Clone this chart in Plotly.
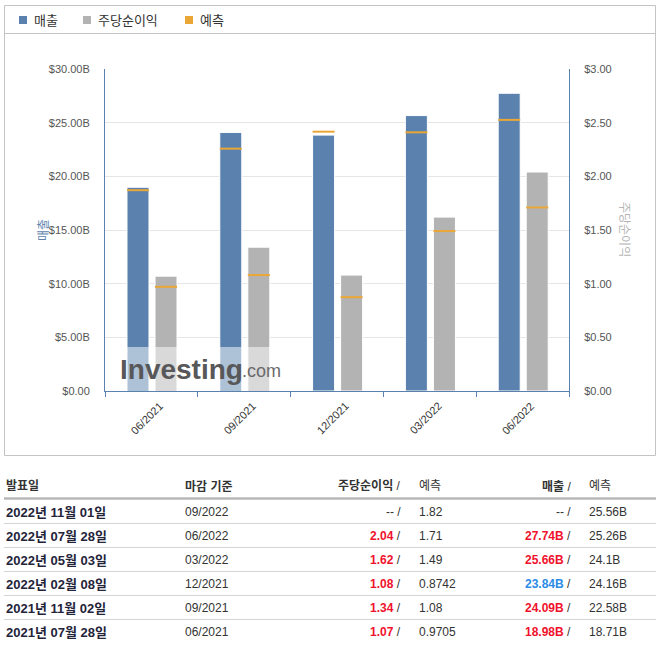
import plotly.graph_objects as go

# 실적 데이터 (오래된 순)
periods = ["06/2021", "09/2021", "12/2021", "03/2022", "06/2022", "09/2022"]
release_dates = ["2021년 07월 28일", "2021년 11월 02일", "2022년 02월 08일",
                 "2022년 05월 03일", "2022년 07월 28일", "2022년 11월 01일"]
revenue = [18.98, 24.09, 23.84, 25.66, 27.74, None]       # 매출 ($B)
revenue_fc = [18.71, 22.58, 24.16, 24.1, 25.26, 25.56]    # 매출 예측
eps = [1.07, 1.34, 1.08, 1.62, 2.04, None]                # 주당순이익
eps_fc = [0.9705, 1.08, 0.8742, 1.49, 1.71, 1.82]         # 주당순이익 예측

rev_ticks = [0, 5, 10, 15, 20, 25, 30]
rev_ticktext = ["$0.00", "$5.00B", "$10.00B", "$15.00B", "$20.00B", "$25.00B", "$30.00B"]
eps_ticks = [0, 0.5, 1.0, 1.5, 2.0, 2.5, 3.0]
eps_ticktext = ["$0.00", "$0.50", "$1.00", "$1.50", "$2.00", "$2.50", "$3.00"]

legend_labels = ["매출", "주당순이익", "예측"]

BLUE = "#5b82ae"
GRAY = "#b3b3b3"
ORANGE = "#eba735"
RED = "#f0122c"
UPBLUE = "#2b8be6"
FONT = "Arial, 'Liberation Sans', 'Noto Sans CJK KR', sans-serif"

# 플롯 영역 (픽셀)
W, H = 665, 649
L, R, T, B = 105, 569, 69, 391


def px(x):
    return (x - L) / (R - L)


def py(y):
    return (B - y) / (B - T)


# 차트에 그릴 분기 (실적이 있는 것만)
n = sum(v is not None for v in revenue)
idx = list(range(n))
bw = 0.237
off_rev = -0.263
off_eps = 0.039
fc_size = 22 / 1.4  # line-ew 심볼은 size의 1.4배 길이

fig = go.Figure()
fig.add_bar(x=idx, y=revenue[:n], width=bw, offset=off_rev, yaxis="y",
            marker=dict(color=BLUE, line=dict(color="white", width=1)),
            showlegend=False, hoverinfo="skip")
fig.add_bar(x=idx, y=eps[:n], width=bw, offset=off_eps, yaxis="y2",
            marker=dict(color=GRAY, line=dict(color="white", width=1)),
            showlegend=False, hoverinfo="skip")
fig.add_scatter(x=[i + off_rev + bw / 2 for i in idx], y=revenue_fc[:n], yaxis="y",
                mode="markers", showlegend=False, hoverinfo="skip",
                marker=dict(symbol="line-ew", size=fc_size, line=dict(color=ORANGE, width=2)))
fig.add_scatter(x=[i + off_eps + bw / 2 for i in idx], y=eps_fc[:n], yaxis="y2",
                mode="markers", showlegend=False, hoverinfo="skip",
                marker=dict(symbol="line-ew", size=fc_size, line=dict(color=ORANGE, width=2)))

shapes = []
ann = []

# 바깥 테두리 + 범례 구분선
shapes.append(dict(type="rect", xref="paper", yref="paper", x0=px(4.5), x1=px(655.5),
                   y0=py(5.5), y1=py(455.5), line=dict(color="#c4c4c4", width=1)))
shapes.append(dict(type="line", xref="paper", yref="paper", x0=px(4.5), x1=px(655.5),
                   y0=py(33.5), y1=py(33.5), line=dict(color="#c4c4c4", width=1)))

# 범례
for lab, col, lx in zip(legend_labels, [BLUE, GRAY, ORANGE], [19, 83, 185]):
    shapes.append(dict(type="rect", xref="paper", yref="paper", x0=px(lx), x1=px(lx + 8),
                       y0=py(16), y1=py(24), fillcolor=col, line=dict(width=0)))
    ann.append(dict(text=lab, xref="paper", yref="paper", x=px(lx + 13), y=py(20),
                    xanchor="left", yanchor="middle", showarrow=False,
                    font=dict(family=FONT, size=13, color="#333")))

# 워터마크
shapes.append(dict(type="rect", xref="paper", yref="paper", x0=px(113), x1=px(286),
                   y0=py(347), y1=py(390), fillcolor="rgba(255,255,255,0.5)",
                   line=dict(width=0), layer="above"))
ann.append(dict(text="<b>Investing</b>", xref="paper", yref="paper", x=px(118), y=py(369),
                xanchor="left", yanchor="middle", showarrow=False,
                font=dict(family=FONT, size=28, color="#58585a")))
ann.append(dict(text=".com", xref="paper", yref="paper", x=px(240), y=py(371),
                xanchor="left", yanchor="middle", showarrow=False,
                font=dict(family=FONT, size=18, color="#6a6a6c")))

# 축 제목
ann.append(dict(text="매출", xref="paper", yref="paper", x=px(35), y=py(230),
                textangle=-90, showarrow=False,
                font=dict(family=FONT, size=12, color=BLUE)))
ann.append(dict(text="주당순이익", xref="paper", yref="paper", x=px(633), y=py(229),
                textangle=90, showarrow=False,
                font=dict(family=FONT, size=12, color="#b4b4b4")))

# x축 라벨
for i in idx:
    ann.append(dict(text=periods[i], xref="x", yref="paper", x=i, y=py(397),
                    xanchor="right", yanchor="top", xshift=17, textangle=-45,
                    showarrow=False, font=dict(family=FONT, size=11, color="#333")))

# 표
hdr_y = 486
ann.append(dict(text="<b>발표일</b>", x=px(4), y=py(hdr_y), xanchor="left"))
ann.append(dict(text="<b>마감 기준</b>", x=px(183), y=py(hdr_y), xanchor="left"))
ann.append(dict(text="<b>주당순이익</b> /", x=px(403), y=py(hdr_y), xanchor="right"))
ann.append(dict(text="예측", x=px(417), y=py(hdr_y), xanchor="left"))
ann.append(dict(text="<b>매출</b> /", x=px(573), y=py(hdr_y), xanchor="right"))
ann.append(dict(text="예측", x=px(587), y=py(hdr_y), xanchor="left"))
shapes.append(dict(type="line", xref="paper", yref="paper", x0=px(4), x1=px(656),
                   y0=py(498.5), y1=py(498.5), line=dict(color="#b8b8b8", width=2.5)))

rows = list(range(len(periods)))[::-1]
for r, k in enumerate(rows):
    ry = 512 + 24 * r
    ann.append(dict(text=f"<b>{release_dates[k]}</b>", x=px(4), y=py(ry), xanchor="left",
                    font=dict(family=FONT, size=13, color="#23233a")))
    ann.append(dict(text=periods[k], x=px(183), y=py(ry), xanchor="left"))
    if eps[k] is None:
        et = "-- /"
    else:
        c = RED if eps[k] >= eps_fc[k] else UPBLUE
        et = f"<b><span style='color:{c}'>{eps[k]:.2f}</span></b> /"
    ann.append(dict(text=et, x=px(403), y=py(ry), xanchor="right"))
    ann.append(dict(text=f"{eps_fc[k]:g}", x=px(417), y=py(ry), xanchor="left"))
    if revenue[k] is None:
        rt = "-- /"
    else:
        c = RED if revenue[k] >= revenue_fc[k] else UPBLUE
        rt = f"<b><span style='color:{c}'>{revenue[k]:.2f}B</span></b> /"
    ann.append(dict(text=rt, x=px(573), y=py(ry), xanchor="right"))
    ann.append(dict(text=f"{revenue_fc[k]:g}B", x=px(587), y=py(ry), xanchor="left"))
    if r < len(rows) - 1:
        shapes.append(dict(type="line", xref="paper", yref="paper", x0=px(4), x1=px(656),
                           y0=py(ry + 11.5), y1=py(ry + 11.5),
                           line=dict(color="#d4d4d4", width=1)))

for a in ann:
    a.setdefault("xref", "paper")
    a.setdefault("yref", "paper")
    a.setdefault("showarrow", False)
    a.setdefault("yanchor", "middle")
    a.setdefault("font", dict(family=FONT, size=12, color="#333"))

fig.update_layout(
    width=W, height=H, autosize=False,
    margin=dict(l=L, r=W - R, t=T, b=H - B, autoexpand=False),
    paper_bgcolor="white", plot_bgcolor="white",
    font=dict(family=FONT, size=11, color="#555"),
    showlegend=False,
    xaxis=dict(range=[-0.5, n - 0.5], tickvals=[i - 0.5 for i in range(n + 1)],
               ticktext=[""] * (n + 1), ticks="outside", ticklen=5, tickcolor=BLUE,
               showline=True, linecolor=BLUE, linewidth=1, showgrid=False,
               zeroline=False, fixedrange=True),
    yaxis=dict(range=[0, 30], tickvals=rev_ticks, ticktext=rev_ticktext,
               showgrid=True, gridcolor="#e6e6e6", gridwidth=1, zeroline=False,
               showline=True, linecolor=BLUE, linewidth=1, ticks="",
               ticklabelstandoff=12, tickfont=dict(size=11, color="#555")),
    yaxis2=dict(range=[0, 3], tickvals=eps_ticks, ticktext=eps_ticktext,
                overlaying="y", side="right", showgrid=False, zeroline=False,
                showline=True, linecolor=BLUE, linewidth=1, ticks="",
                ticklabelstandoff=12, tickfont=dict(size=11, color="#555")),
    shapes=shapes,
    annotations=ann,
)

fig.write_html("out.html", config={"displayModeBar": False},
               post_script="document.body.style.margin='0';")
